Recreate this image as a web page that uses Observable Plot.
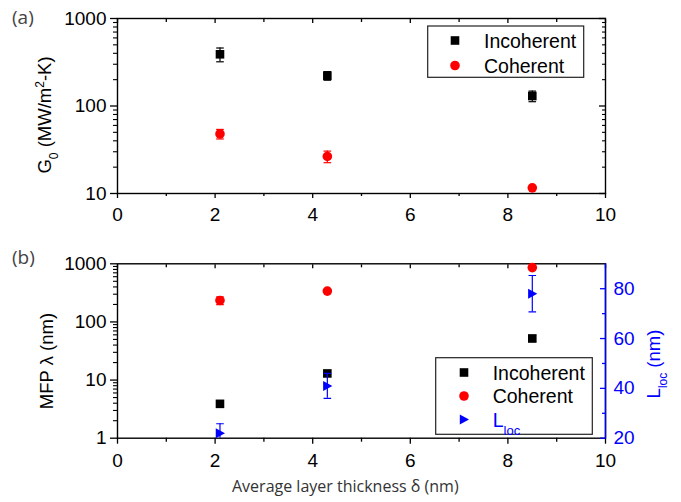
<!DOCTYPE html>
<html><head><meta charset="utf-8">
<script src="https://cdn.jsdelivr.net/npm/d3@7"></script>
<script src="https://cdn.jsdelivr.net/npm/@observablehq/plot@0.6"></script>
<style>
body{margin:0;background:#fff;}
#chart{position:relative;width:681px;height:502px;background:#fff;}
#chart svg{position:absolute;left:0;overflow:visible;}
</style></head>
<body><div id="chart"></div>
<script>
// ---- data ----
const thickness = [2.1, 4.3, 8.5];
const g0Incoherent = [390, 222, 130];
const g0IncoherentErr = [70, 25, 18];
const g0Coherent = [48, 26.5, 11.6];
const g0CoherentErr = [6, 4, 0];
const mfpIncoherent = [3.9, 13, 52];
const mfpIncoherentErr = [0, 0, 6];
const mfpCoherent = [234, 339, 860];
const mfpCoherentErr = [35, 0, 0];
const lloc = [22, 41, 78];
const llocErr = [3.8, 5, 7.3];
const xTicks = [0, 2, 4, 6, 8, 10];
const xMinorTicks = [1, 3, 5, 7, 9];
const g0Ticks = [10, 100, 1000];
const mfpTicks = [1, 10, 100, 1000];
const llocTicks = [20, 40, 60, 80];
const llocMinorTicks = [30, 50, 70];
const llocDomain = [20, 90];
const seriesNames = ["Incoherent", "Coherent"];

const W = 681;
const FONT = "'Liberation Sans', Arial, sans-serif";
const TITLE_FONT = "'Open Sans', 'Noto Sans', sans-serif";
const chart = document.getElementById("chart");

const minor = decs => decs.flatMap(d => [2,3,4,5,6,7,8,9].map(k => k * d));
const toLog = L => Math.pow(10, (L - llocDomain[0]) / (llocDomain[1] - llocDomain[0]) * 3);

const series = (ys, errs, f = v => v) => thickness.map((x, i) => ({
  x, y: f(ys[i]), lo: f(ys[i] - errs[i]), hi: f(ys[i] + errs[i]), e: errs[i]
}));

const squareSym = {draw(c){ c.moveTo(-4.3,-4.3); c.lineTo(4.3,-4.3); c.lineTo(4.3,4.3); c.lineTo(-4.3,4.3); c.closePath(); }};
const circleSym = {draw(c){ c.moveTo(4.8,0); c.arc(0,0,4.8,0,2*Math.PI); }};
const triSym = {draw(c){ c.moveTo(-4.2,-5); c.lineTo(5,0); c.lineTo(-4.2,5); c.closePath(); }};
const capSym = {draw(c){ c.moveTo(-3.8,0); c.lineTo(3.8,0); }};

function pointMarks(data, color, sym) {
  const withErr = data.filter(d => d.e > 0);
  return [
    Plot.ruleX(withErr, {x: "x", y1: "lo", y2: "hi", stroke: color, strokeWidth: 1.2, clip: "frame"}),
    Plot.dot(withErr, {x: "x", y: "lo", symbol: capSym, stroke: color, fill: "none", strokeWidth: 1.2, clip: "frame"}),
    Plot.dot(withErr, {x: "x", y: "hi", symbol: capSym, stroke: color, fill: "none", strokeWidth: 1.2, clip: "frame"}),
    Plot.dot(data, {x: "x", y: "y", symbol: sym, fill: color, stroke: "none"})
  ];
}

function frameAxes(majorY, minorY, xPad, xTick) {
  const fmt = d3.format("d");
  return [
    Plot.axisX(xTicks, {anchor: "bottom", tickSize: xTick, tickPadding: xPad, label: null, fontSize: 19, strokeWidth: 1.3}),
    Plot.axisX(xMinorTicks, {anchor: "bottom", tickSize: xTick - 2, tickFormat: () => "", label: null, strokeWidth: 1.3}),
    Plot.axisX(xTicks, {anchor: "top", tickSize: -4, tickFormat: () => "", label: null, strokeWidth: 1.3}),
    Plot.axisX(xMinorTicks, {anchor: "top", tickSize: -3, tickFormat: () => "", label: null, strokeWidth: 1.3}),
    Plot.axisY(majorY, {anchor: "left", tickSize: 7, tickPadding: 4, tickFormat: fmt, label: null, fontSize: 19, strokeWidth: 1.3}),
    Plot.axisY(minorY, {anchor: "left", tickSize: 4, tickFormat: () => "", label: null, strokeWidth: 1.1})
  ];
}

// ---- panel (a) ----
const svgA = Plot.plot({
  width: W, height: 240,
  marginLeft: 117, marginRight: 76, marginTop: 18, marginBottom: 47,
  x: {domain: [0, 10], label: null},
  y: {type: "log", domain: [10, 1000], label: null},
  style: {fontFamily: FONT, fontSize: "19px", color: "black", background: "transparent", overflow: "visible"},
  marks: [
    ...frameAxes(g0Ticks, minor([10, 100]), 8.5, 5),
    Plot.axisY(g0Ticks, {anchor: "right", tickSize: -7, tickFormat: () => "", label: null, strokeWidth: 1.3}),
    Plot.axisY(minor([10, 100]), {anchor: "right", tickSize: -4, tickFormat: () => "", label: null, strokeWidth: 1.1}),
    Plot.frame({stroke: "black", strokeWidth: 1.4}),
    ...pointMarks(series(g0Incoherent, g0IncoherentErr), "black", squareSym),
    ...pointMarks(series(g0Coherent, g0CoherentErr), "#ff0000", circleSym)
  ]
});
svgA.style.top = "0px";
chart.appendChild(svgA);

// ---- panel (b) ----
const svgB = Plot.plot({
  width: W, height: 262,
  marginLeft: 117, marginRight: 76, marginTop: 23.3, marginBottom: 64.3,
  x: {domain: [0, 10], label: null},
  y: {type: "log", domain: [1, 1000], label: null},
  style: {fontFamily: FONT, fontSize: "19px", color: "black", background: "transparent", overflow: "visible"},
  marks: [
    ...frameAxes(mfpTicks, minor([1, 10, 100]), 9.5, 6),
    Plot.frame({stroke: "black", strokeWidth: 1.4}),
    Plot.ruleX([10], {stroke: "#0000ff", strokeWidth: 1.5}),
    Plot.axisY(llocTicks.map(toLog), {anchor: "right", tickSize: -6, tickFormat: () => "", label: null, stroke: "#0000ff", strokeWidth: 1.3}),
    Plot.axisY(llocMinorTicks.map(toLog), {anchor: "right", tickSize: -4, tickFormat: () => "", label: null, stroke: "#0000ff", strokeWidth: 1.3}),
    Plot.text(llocTicks, {frameAnchor: "right", y: d => toLog(d), text: d => String(d), dx: 8, textAnchor: "start", fill: "#0000ff", fontSize: 19}),
    ...pointMarks(series(mfpIncoherent, mfpIncoherentErr), "black", squareSym),
    ...pointMarks(series(mfpCoherent, mfpCoherentErr), "#ff0000", circleSym),
    ...pointMarks(series(lloc, llocErr, toLog), "#0000ff", triSym)
  ]
});
svgB.style.top = "240px";
chart.appendChild(svgB);

// ---- titles, labels, legends ----
function addText(svg, attrs, parts) {
  const t = d3.select(svg).append("text").attr("text-anchor", "start");
  for (const [k, v] of Object.entries(attrs)) t.attr(k, v);
  for (const p of parts) {
    const s = t.append("tspan").text(p.t);
    if (p.shift) s.attr("baseline-shift", p.shift).attr("font-size", p.size || 13);
  }
  return t;
}
const A = d3.select(svgA), B = d3.select(svgB);

addText(svgA, {x: 12, y: 24, "font-family": TITLE_FONT, "font-size": 19, fill: "#444"}, [{t: "(a)"}]);
addText(svgB, {x: 12, y: 24, "font-family": TITLE_FONT, "font-size": 19, fill: "#444"}, [{t: "(b)"}]);

addText(svgA, {transform: "translate(51,115) rotate(-90)", "text-anchor": "middle", "font-family": FONT, "font-size": 18.5, fill: "black"},
  [{t: "G"}, {t: "0", shift: "sub", size: 12}, {t: " (MW/m"}, {t: "2", shift: "super", size: 12}, {t: "-K)"}]);
addText(svgB, {transform: "translate(53,121) rotate(-90)", "text-anchor": "middle", "font-family": FONT, "font-size": 18.5, fill: "black"},
  [{t: "MFP λ (nm)"}]);
addText(svgB, {transform: "translate(660,124) rotate(-90)", "text-anchor": "middle", "font-family": FONT, "font-size": 18.5, fill: "#0000ff"},
  [{t: "L"}, {t: "loc", shift: "sub", size: 12}, {t: " (nm)"}]);
addText(svgB, {x: 232, y: 251.5, "font-family": TITLE_FONT, "font-size": 16, fill: "#333"},
  [{t: "Average layer thickness δ (nm)"}]);

function symPath(sym) { const p = d3.path(); sym.draw(p); return p.toString(); }
function legend(sel, box, items) {
  sel.append("rect").attr("x", box.x).attr("y", box.y).attr("width", box.w).attr("height", box.h)
    .attr("fill", "white").attr("stroke", "#222").attr("stroke-width", 1.2);
  items.forEach((it, i) => {
    const cy = box.sy + i * box.dy;
    sel.append("path").attr("d", symPath(it.sym)).attr("transform", `translate(${box.sx},${cy})`).attr("fill", it.color);
    const t = sel.append("text").attr("text-anchor", "start").attr("x", box.tx).attr("y", cy + 7)
      .attr("font-family", FONT).attr("font-size", 19.5).attr("fill", it.textColor || "black");
    t.append("tspan").text(it.label);
    if (it.sub) t.append("tspan").attr("baseline-shift", "sub").attr("font-size", 13).text(it.sub);
  });
}
legend(A, {x: 427.7, y: 26, w: 156, h: 51.3, sx: 455, sy: 40.5, dy: 25, tx: 484},
  [{sym: squareSym, color: "black", label: seriesNames[0]}, {sym: circleSym, color: "#ff0000", label: seriesNames[1]}]);
legend(B, {x: 435.7, y: 117.7, w: 156.6, h: 76.6, sx: 464, sy: 132.5, dy: 23.5, tx: 492.7},
  [{sym: squareSym, color: "black", label: seriesNames[0]}, {sym: circleSym, color: "#ff0000", label: seriesNames[1]},
   {sym: triSym, color: "#0000ff", label: "L", sub: "loc", textColor: "#0000ff"}]);
</script>
</body></html>
